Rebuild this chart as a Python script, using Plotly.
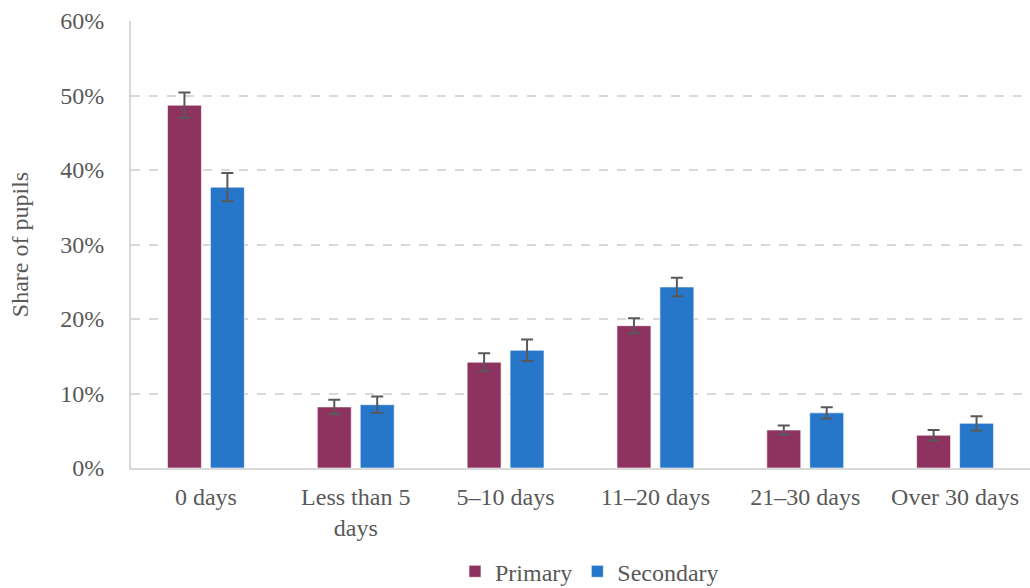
import plotly.graph_objects as go

categories = ["0 days", "Less than 5<br>days", "5–10 days", "11–20 days", "21–30 days", "Over 30 days"]
primary = [48.7, 8.2, 14.2, 19.1, 5.1, 4.4]
primary_err = [1.7, 0.95, 1.2, 1.0, 0.6, 0.7]
secondary = [37.7, 8.5, 15.8, 24.3, 7.4, 6.0]
secondary_err = [1.9, 1.1, 1.45, 1.25, 0.75, 0.95]
yticks = [0, 10, 20, 30, 40, 50, 60]

FONT = "Liberation Serif"
TXT = "#595959"
FS = 24

fig = go.Figure()
fig.add_trace(go.Bar(
    name="Primary", x=categories, y=[v / 100 for v in primary],
    marker=dict(color="#8E3360", line=dict(color="rgba(255,255,255,0.6)", width=1)),
    error_y=dict(type="data", array=[v / 100 for v in primary_err], color="#595959", thickness=2, width=6),
))
fig.add_trace(go.Bar(
    name="Secondary", x=categories, y=[v / 100 for v in secondary],
    marker=dict(color="#2677C9", line=dict(color="rgba(255,255,255,0.6)", width=1)),
    error_y=dict(type="data", array=[v / 100 for v in secondary_err], color="#595959", thickness=2, width=6),
))

fig.update_layout(
    width=1030, height=588,
    margin=dict(l=131, r=0, t=21, b=120, autoexpand=False),
    paper_bgcolor="white", plot_bgcolor="white",
    barmode="group", bargap=0.427, bargroupgap=0.209,
    font=dict(family=FONT, size=FS, color=TXT),
    legend=dict(orientation="h", x=0.51, xanchor="center", y=-0.232, yanchor="middle",
                font=dict(family=FONT, size=FS, color=TXT), itemwidth=30, traceorder="normal"),
    showlegend=True,
)
fig.update_yaxes(
    range=[0, 0.6], tickvals=[v / 100 for v in yticks], ticktext=[f"{v}%" for v in yticks],
    showgrid=True, gridcolor="#d9d9d9", griddash="dash", gridwidth=1.5,
    showline=True, linecolor="#d9d9d9", linewidth=2, zeroline=False,
    ticks="", ticklabelstandoff=20,
    tickfont=dict(family=FONT, size=FS, color=TXT),
    title=dict(text="Share of pupils", font=dict(family=FONT, size=FS, color=TXT), standoff=25),
)
fig.update_xaxes(
    showline=True, linecolor="#d9d9d9", linewidth=2, ticks="", ticklabelstandoff=6,
    tickfont=dict(family=FONT, size=FS, color=TXT),
)

fig.write_html("out.html", config={"displayModeBar": False},
               post_script="document.body.style.margin='0';document.body.style.overflow='hidden';")
